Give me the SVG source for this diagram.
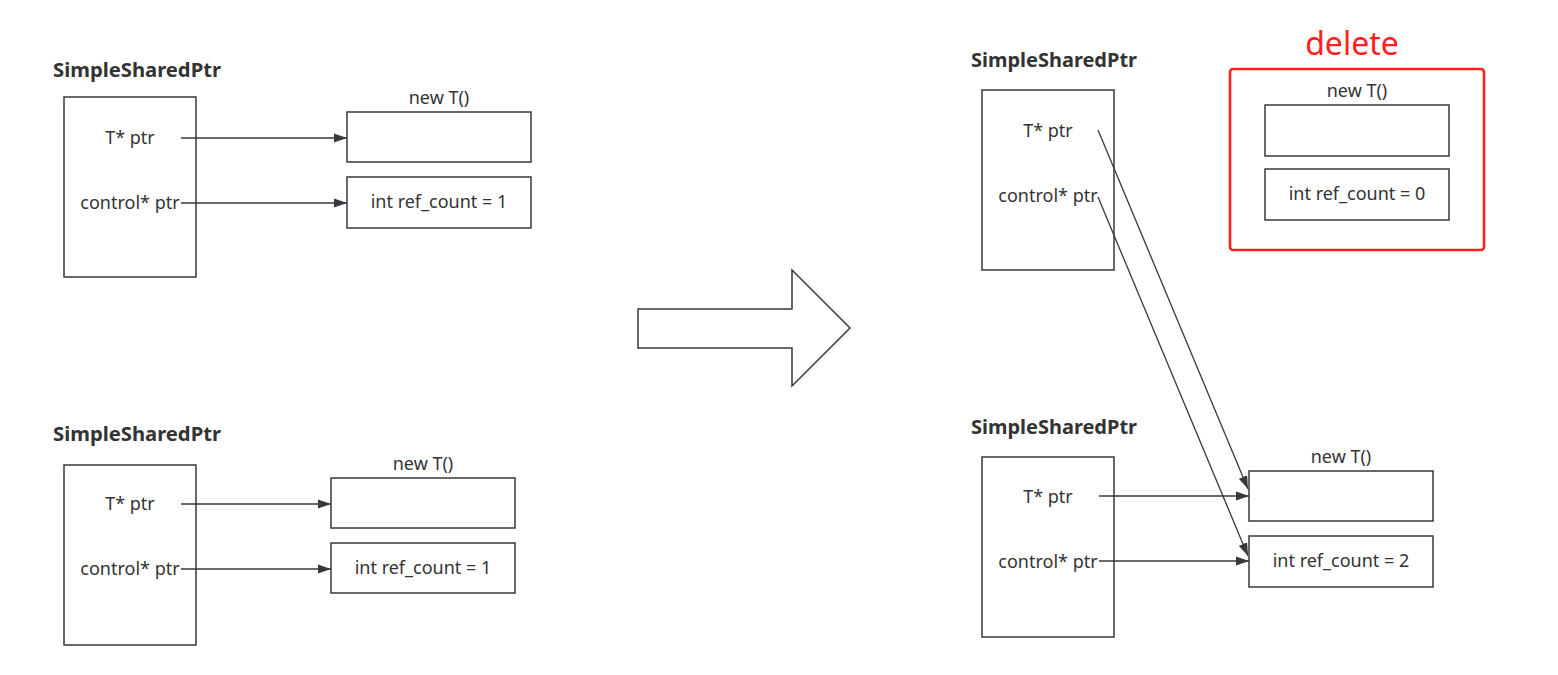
<svg xmlns="http://www.w3.org/2000/svg" width="1558" height="675" viewBox="0 0 1558 675">
<style>
text{font-family:"Noto Sans","Open Sans","Liberation Sans",sans-serif;fill:#333333;}
.t{font-size:18px;text-anchor:middle;}
.h{font-size:19px;font-weight:bold;}
.box{fill:#ffffff;stroke:#36393d;stroke-width:1.5;}
.ln{fill:none;stroke:#36393d;stroke-width:1.3;marker-end:url(#ah);}
.del{fill:none;stroke:#ff2020;stroke-width:2.6;}
</style>
<defs>
<marker id="ah" markerUnits="userSpaceOnUse" markerWidth="14" markerHeight="10" refX="13" refY="5" orient="auto">
<path d="M0,0.5 L13,5 L0,9.5 Z" fill="#36393d"/>
</marker>
</defs>
<rect width="1558" height="675" fill="#ffffff"/>

<g id="ptr-top-left">
<text class="h" x="53" y="77" textLength="168" lengthAdjust="spacingAndGlyphs">SimpleSharedPtr</text>
<rect class="box" x="64" y="97" width="132" height="180"/>
<text class="t" x="130" y="144">T* ptr</text>
<text class="t" x="130" y="209">control* ptr</text>
</g>
<g id="obj-top-left">
<text class="t" x="439" y="104">new T()</text>
<rect class="box" x="347" y="112" width="184" height="50"/>
</g>
<g id="ctrl-top-left">
<rect class="box" x="347" y="177" width="184" height="51"/>
<text class="t" x="439" y="208">int ref_count = 1</text>
</g>

<g id="ptr-bottom-left">
<text class="h" x="53" y="441" textLength="168" lengthAdjust="spacingAndGlyphs">SimpleSharedPtr</text>
<rect class="box" x="64" y="465" width="132" height="180"/>
<text class="t" x="130" y="510">T* ptr</text>
<text class="t" x="130" y="575">control* ptr</text>
</g>
<g id="obj-bottom-left">
<text class="t" x="423" y="470">new T()</text>
<rect class="box" x="331" y="478" width="184" height="50"/>
</g>
<g id="ctrl-bottom-left">
<rect class="box" x="331" y="543" width="184" height="50"/>
<text class="t" x="423" y="574">int ref_count = 1</text>
</g>

<g id="big-arrow">
<polygon class="box" points="638,309 792,309 792,270 850,328 792,386 792,348 638,348"/>
</g>

<g id="ptr-top-right">
<text class="h" x="971" y="67" textLength="166" lengthAdjust="spacingAndGlyphs">SimpleSharedPtr</text>
<rect class="box" x="982" y="90" width="132" height="180"/>
<text class="t" x="1048" y="137">T* ptr</text>
<text class="t" x="1048" y="202">control* ptr</text>
</g>
<g id="deleted">
<text x="1352" y="55" style="font-size:32px;fill:#ff2020;text-anchor:middle">delete</text>
<rect class="del" x="1230" y="69" width="254" height="181" rx="3"/>
<text class="t" x="1357" y="97">new T()</text>
<rect class="box" x="1265" y="105" width="184" height="51"/>
<rect class="box" x="1265" y="169" width="184" height="51"/>
<text class="t" x="1357" y="200">int ref_count = 0</text>
</g>

<g id="ptr-bottom-right">
<text class="h" x="971" y="434" textLength="166" lengthAdjust="spacingAndGlyphs">SimpleSharedPtr</text>
<rect class="box" x="982" y="457" width="132" height="180"/>
<text class="t" x="1048" y="503">T* ptr</text>
<text class="t" x="1048" y="568">control* ptr</text>
</g>
<g id="obj-bottom-right">
<text class="t" x="1341" y="463">new T()</text>
<rect class="box" x="1249" y="471" width="184" height="50"/>
</g>
<g id="ctrl-bottom-right">
<rect class="box" x="1249" y="536" width="184" height="51"/>
<text class="t" x="1341" y="567">int ref_count = 2</text>
</g>

<g id="connectors">
<line class="ln" x1="181" y1="138" x2="347" y2="138"/>
<line class="ln" x1="181" y1="203" x2="347" y2="203"/>
<line class="ln" x1="181" y1="504" x2="331" y2="504"/>
<line class="ln" x1="181" y1="569" x2="331" y2="569"/>
<line class="ln" x1="1098" y1="130" x2="1248" y2="489"/>
<line class="ln" x1="1098" y1="197" x2="1248" y2="556"/>
<line class="ln" x1="1099" y1="496" x2="1249" y2="496"/>
<line class="ln" x1="1099" y1="561" x2="1249" y2="561"/>
</g>
</svg>
